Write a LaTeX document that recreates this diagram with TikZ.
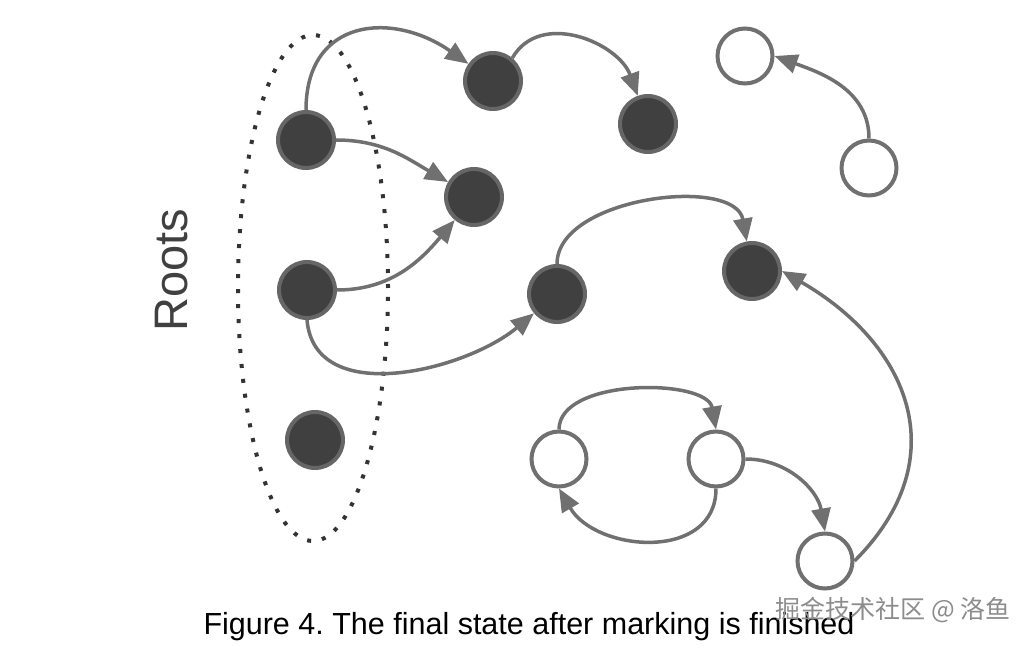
\documentclass[tikz,border=0pt]{standalone}
\usepackage{fontspec}
\setmainfont{Liberation Sans}
\newfontfamily\cjk{Noto Sans CJK SC}
\usetikzlibrary{arrows.meta}
\definecolor{markfill}{HTML}{404040}
\definecolor{markline}{HTML}{666666}
\definecolor{edgegray}{HTML}{707070}
\definecolor{dotgray}{HTML}{333333}
\definecolor{rootsgray}{HTML}{404040}
\definecolor{wmgray}{HTML}{8C8C8C}
\begin{document}
\begin{tikzpicture}[x=1pt, y=1pt, marked/.style={circle, draw=markline, fill=markfill, line width=4pt, minimum size=56pt, inner sep=0pt}, unmarked/.style={circle, draw=edgegray, fill=white, line width=4pt, minimum size=55pt, inner sep=0pt}, ref/.style={draw=edgegray, line width=3.5pt, -{Triangle[length=23pt, width=19pt]}}]
	\useasboundingbox (0,0) rectangle (1028,646);
	% root set
	\draw[dotgray, line width=4pt, dash pattern=on 4pt off 11pt] (313,358) ellipse [x radius=75, y radius=253];
	\node[rotate=90, text=rootsgray, font=\fontsize{47}{47}\selectfont] (roots) at (172,376) {Roots};
	\node[marked] (R1) at (306,506) {};
	\node[marked] (R2) at (307,356) {};
	\node[marked] (R3) at (315,206) {};
	% reachable objects
	\node[marked] (A) at (493,565) {};
	\node[marked] (B) at (474,449) {};
	\node[marked] (C) at (648,522) {};
	\node[marked] (D) at (557,352) {};
	\node[marked] (E) at (752,375) {};
	% garbage
	\node[unmarked] (W1) at (745,590) {};
	\node[unmarked] (W2) at (869,478) {};
	\node[unmarked] (W3) at (559,187) {};
	\node[unmarked] (W4) at (716,187) {};
	\node[unmarked] (W5) at (825,85) {};
	\draw[ref] (R1.north) to[out=90, in=145, looseness=1.4] (A);
	\draw[ref] (A.50) to[out=60, in=110, looseness=1.1] (C);
	\draw[ref] (R1.east) to[out=0, in=150] (B);
	\draw[ref] (R2.east) to[out=0, in=230] (B);
	\draw[ref] (R2.south) to[out=-85, in=220] (D);
	\draw[ref] (D.north) to[out=90, in=100, looseness=0.9] (E);
	\draw[ref] (W5.east) to[out=45, in=-30, looseness=1.25] (E.east);
	\draw[ref] (W2.north) to[out=90, in=-20] (W1.east);
	\draw[ref] (W3.north) to[out=90, in=100, looseness=0.85] (W4.north);
	\draw[ref] (W4.south) to[out=-90, in=-60, looseness=1.2] (W3.south);
	\draw[ref] (W4.east) to[out=0, in=100] (W5.north);
	\node[anchor=base, font=\fontsize{30.5}{30.5}\selectfont] (caption) at (529,12) {Figure 4.\ The final state after marking is finished};
	\node[anchor=west, text=wmgray, font=\cjk\fontsize{25}{25}\selectfont] (wm) at (772,36) {掘金技术社区 @ 洛鱼};
\end{tikzpicture}
\end{document}
